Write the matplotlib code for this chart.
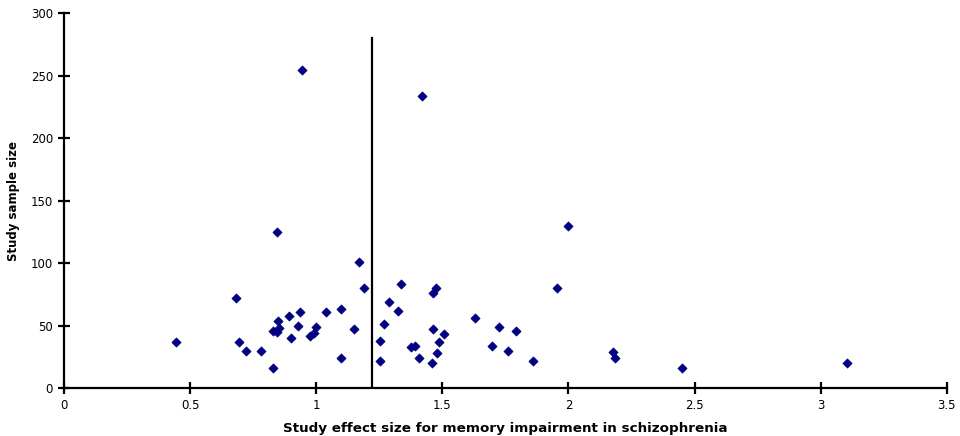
import matplotlib
matplotlib.use("Agg")
import matplotlib.pyplot as plt

plt.rcParams['font.family'] = ['DejaVu Sans']

# effect size (x) and sample size (y) per study
effect_size = [0.443, 0.681, 0.693, 0.720, 0.781, 0.829, 0.847, 0.830, 0.853, 0.843,
               0.891, 0.900, 0.927, 0.936, 0.977, 0.998, 0.993, 1.039, 1.097, 1.100,
               1.150, 1.190, 0.845, 0.942, 1.168, 1.418, 1.337, 1.474, 1.462, 1.289,
               1.324, 1.268, 1.254, 1.252, 1.376, 1.393, 1.406, 1.462, 1.506, 1.486,
               1.478, 1.459, 1.628, 1.725, 1.792, 1.696, 1.759, 1.858, 1.956, 1.998,
               2.176, 2.183, 2.449, 3.106]
sample_size = [37, 72, 37, 30, 30, 16, 54, 46, 48, 45,
               58, 40, 50, 61, 42, 49, 44, 61, 63, 24,
               47, 80, 125, 255, 101, 234, 83, 80, 76, 69,
               62, 51, 38, 22, 33, 34, 24, 47, 43, 37,
               28, 20, 56, 49, 46, 34, 30, 22, 80, 130,
               29, 24, 16, 20]

mean_effect = 1.221
line_top = 280

fig = plt.figure(figsize=(9.6, 4.36), dpi=100)
ax = fig.add_axes([0.0667, 0.110, 0.9195, 0.8595])

ax.scatter(effect_size, sample_size, marker='D', s=22, color='#000080',
           edgecolors='#000080', linewidths=0.5, zorder=3)
ax.plot([mean_effect, mean_effect], [0, line_top], color='black', lw=1.6)

ax.set_xlim(0, 3.5)
ax.set_ylim(0, 300)
ax.set_xticks([0, 0.5, 1, 1.5, 2, 2.5, 3, 3.5])
ax.set_xticklabels(['0', '0.5', '1', '1.5', '2', '2.5', '3', '3.5'])
ax.set_yticks(range(0, 301, 50))

for s in ['top', 'right']:
    ax.spines[s].set_visible(False)
for s in ['left', 'bottom']:
    ax.spines[s].set_linewidth(1.6)
ax.tick_params(direction='inout', length=8, width=1.6, labelsize=8.5, pad=4)

ax.set_xlabel('Study effect size for memory impairment in schizophrenia',
              fontsize=9.7, fontweight='bold', labelpad=7)
ax.set_ylabel('Study sample size', fontsize=8.5, fontweight='bold', labelpad=8)

fig.savefig('out.png', dpi=100)
